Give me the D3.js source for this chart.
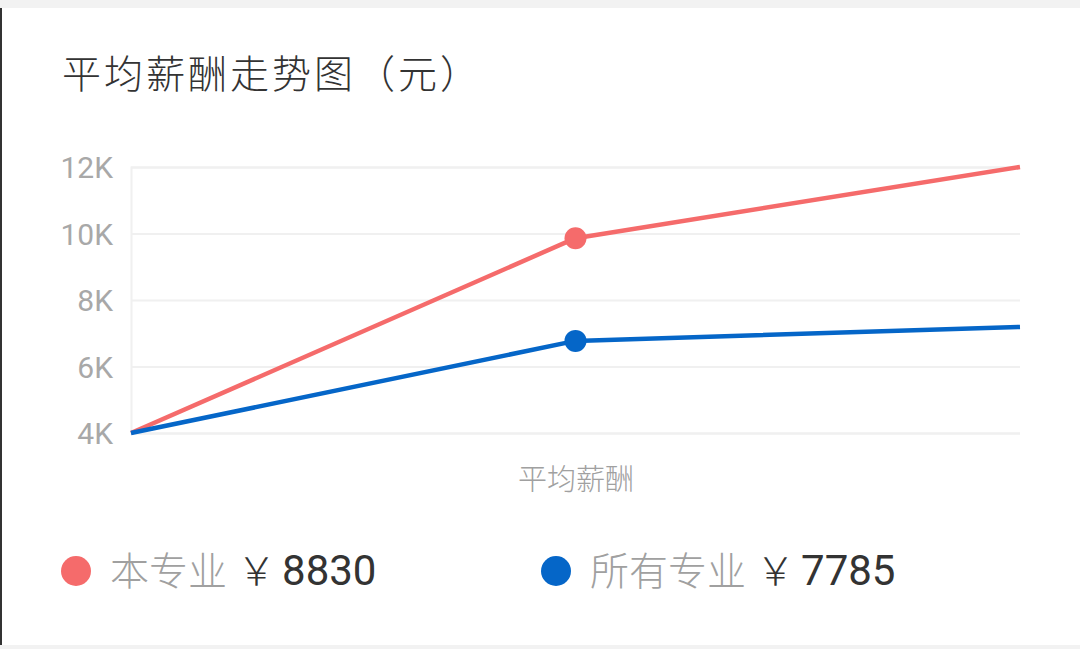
<!DOCTYPE html>
<html>
<head>
<meta charset="utf-8">
<script src="https://cdn.jsdelivr.net/npm/d3@7"></script>
<style>
  html, body { margin: 0; padding: 0; background: #fff; }
  svg { display: block; font-family: "Noto Sans CJK SC", "Noto Sans", sans-serif; }
</style>
</head>
<body>
<svg id="chart" width="1080" height="649"></svg>
<script>
const title = "平均薪酬走势图（元）";
const categories = ["start", "平均薪酬", "end"];
const categoryLabels = ["", "平均薪酬", ""];
const seriesNames = ["本专业", "所有专业"];
const seriesMajor = [4000, 9860, 12000];
const seriesAll = [4000, 6770, 7190];
const legendValues = ["8830", "7785"];
const yTicks = [4000, 6000, 8000, 10000, 12000];
const colors = ["#f56b6b", "#0566c8"];

const svg = d3.select("#chart");
const W = 1080, H = 649;
const plot = { left: 131, right: 1020, top: 167, bottom: 433 };
const CJK = "'Noto Sans CJK SC', sans-serif";
const LAT = "Roboto, 'Noto Sans', sans-serif";

// frame decorations
svg.append("rect").attr("x", 0).attr("y", 0).attr("width", W).attr("height", 8).attr("fill", "#f2f2f2");
svg.append("rect").attr("x", 0).attr("y", 645).attr("width", W).attr("height", 4).attr("fill", "#f2f2f2");
svg.append("rect").attr("x", 0).attr("y", 8).attr("width", 2).attr("height", 637).attr("fill", "#333");

// title
svg.append("text").attr("x", 62).attr("y", 88)
  .attr("font-size", 39).attr("letter-spacing", 3).attr("font-weight", 300)
  .attr("font-family", CJK).attr("fill", "#333").text(title);

const x = d3.scalePoint().domain(categories).range([plot.left, plot.right]);
const y = d3.scaleLinear().domain([4000, 12000]).range([plot.bottom, plot.top]);

// grid + y axis
const yAxis = d3.axisLeft(y).tickValues(yTicks)
  .tickSize(-(plot.right - plot.left))
  .tickFormat(d => (d / 1000) + "K");
const gy = svg.append("g").attr("transform", `translate(${plot.left},0)`).call(yAxis);
gy.select(".domain").attr("stroke", "#f0f0f0").attr("stroke-width", 2);
gy.selectAll(".tick line").attr("stroke", "#f0f0f0").attr("stroke-width", 2);
gy.selectAll(".tick text").attr("x", -18).attr("dy", "0.36em").attr("font-size", 30).attr("fill", "#a8a8a8")
  .attr("font-family", LAT);

// x axis labels
const xAxis = d3.axisBottom(x).tickSize(0).tickFormat((d, i) => categoryLabels[i]);
const gx = svg.append("g").attr("transform", `translate(0,${plot.bottom})`).call(xAxis);
gx.select(".domain").remove();
gx.selectAll(".tick text").attr("dy", 0).attr("y", 57).attr("font-size", 29).attr("fill", "#a0a0a0")
  .attr("font-weight", 300).attr("font-family", CJK);

// lines
const series = [seriesMajor, seriesAll];
const line = d3.line().x((d, i) => x(categories[i])).y(d => y(d));
series.forEach((s, k) => {
  svg.append("path").datum(s).attr("d", line)
    .attr("fill", "none").attr("stroke", colors[k]).attr("stroke-width", 4.5)
    .attr("stroke-linejoin", "round");
});
// markers at middle point
series.forEach((s, k) => {
  svg.append("circle").attr("cx", x(categories[1])).attr("cy", y(s[1])).attr("r", 11)
    .attr("fill", colors[k]);
});

// legend
const legendX = [76, 556];
seriesNames.forEach((name, k) => {
  const g = svg.append("g").attr("transform", `translate(${legendX[k]},571)`);
  g.append("circle").attr("r", 15).attr("fill", colors[k]);
  const t = g.append("text").attr("x", 34).attr("y", 14).attr("font-size", 39);
  t.append("tspan").attr("fill", "#a0a0a0").attr("font-weight", 300).attr("font-family", CJK).text(name);
  t.append("tspan").attr("dx", 10).attr("fill", "#333").attr("font-family", CJK).attr("font-weight", 300).text("￥");
  t.append("tspan").attr("dx", 6).attr("fill", "#333").attr("font-family", LAT).attr("font-size", 42).text(legendValues[k]);
});
</script>
</body>
</html>
